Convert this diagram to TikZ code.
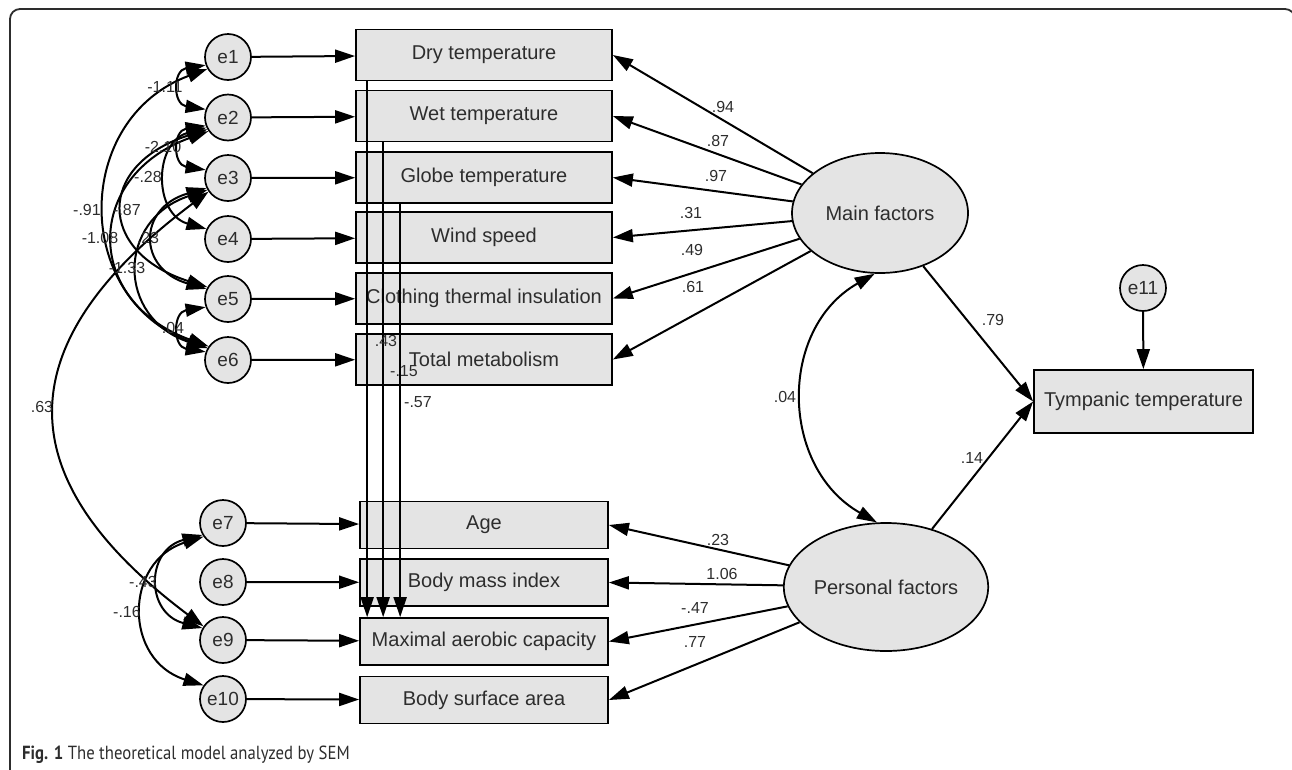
\documentclass[tikz,border=0pt]{standalone}
\usepackage{fontspec}
\setmainfont{Liberation Sans}
\newfontfamily\capfont[FakeStretch=0.88]{PT Sans}
\usetikzlibrary{shapes.geometric,arrows.meta,calc}

\definecolor{boxgray}{RGB}{228,228,228}
\definecolor{inkgray}{RGB}{45,45,45}

\tikzset{
  obs/.style={draw=black,line width=1.7pt,fill=boxgray,minimum width=256pt,minimum height=51pt,
    inner sep=0pt,font=\fontsize{20}{22}\selectfont,text=inkgray},
  err/.style={circle,draw=black,line width=1.7pt,fill=boxgray,minimum size=46pt,inner sep=0pt,
    font=\fontsize{19}{21}\selectfont,text=inkgray},
  lat/.style={ellipse,draw=black,line width=1.7pt,fill=boxgray,inner sep=0pt,
    font=\fontsize{20}{22}\selectfont,text=inkgray},
  coef/.style={font=\fontsize{16}{18}\selectfont,text=inkgray,inner sep=0pt},
  onearr/.style={->,line width=2pt},
  twoarr/.style={<->,line width=2pt}
}

\begin{document}
\begin{tikzpicture}[x=1pt,y=-1pt,>={Triangle[length=20pt,width=13pt]}]
\useasboundingbox (0,0) rectangle (1292,769);
\clip (0,0) rectangle (1292,769);

% frame
\draw[line width=1.8pt,draw=inkgray,rounded corners=10pt] (10,800) -- (10,9) -- (1295,9) -- (1295,800);

% observed variables
\foreach \n/\t/\y in {dry/Dry temperature/55, wet/Wet temperature/116, globe/Globe temperature/177.5,
    wind/Wind speed/237.5, cloth/Clothing thermal insulation/298.5, meta/Total metabolism/359.5}
  \node[obs] (\n) at (484,\y) {\t};
\foreach \n/\t/\y in {age/Age/525, bmi/Body mass index/582.5, mac/Maximal aerobic capacity/641.5,
    bsa/Body surface area/700}
  \node[obs,minimum width=248pt,minimum height=47pt] (\n) at (484,\y) {\t};
\node[obs,minimum width=219pt,minimum height=63pt] (tymp) at (1143.5,401.5) {Tympanic temperature};

% errors
\foreach \y [count=\i] in {57,117.5,178,239,299,360}
  \node[err] (e\i) at (228,\y) {e\i};
\foreach \y [count=\i from 7] in {523,582,640,699}
  \node[err] (e\i) at (223,\y) {e\i};
\node[err] (e11) at (1143,288) {e11};

% latent factors
\node[lat,minimum width=176pt,minimum height=120pt] (main) at (880,213) {Main factors};
\node[lat,minimum width=172pt,minimum height=128pt] (pers) at (886,587) {Personal factors};

% paths
\foreach \i/\n in {1/dry,2/wet,3/globe,4/wind,5/cloth,6/meta,7/age,8/bmi,9/mac,10/bsa}
  \draw[onearr] (e\i) -- (\n);
\foreach \n in {dry,wet,globe,wind,cloth,meta}
  \draw[onearr] (main) -- (\n.east);
\foreach \n in {age,bmi,mac,bsa}
  \draw[onearr] (pers) -- (\n.east);
\draw[onearr] (main) -- (tymp.west);
\draw[onearr] (pers) -- (tymp.west);
\draw[onearr] (e11) -- (tymp);
\foreach \n/\dx in {dry/12,wet/28,globe/45}
  \draw[onearr] ($(\n.south west)+(\dx,0)$) -- ($(\n.south west |- mac.north)+(\dx,0)$);

% covariances
\draw[twoarr] (main.265) .. controls +(-97,55) and +(-97,-55) .. (pers.98);
\draw[twoarr] (e1.200) .. controls +(-33,5) and +(-33,-5) .. (e2.160);
\draw[twoarr] (e2.200) .. controls +(-33,5) and +(-33,-5) .. (e3.160);
\draw[twoarr] (e5.200) .. controls +(-33,5) and +(-33,-5) .. (e6.160);
\draw[twoarr] (e2.205) .. controls +(-53,15) and +(-53,-15) .. (e4.155);
\draw[twoarr] (e3.205) .. controls +(-69,20) and +(-69,-20) .. (e5.155);
\draw[twoarr] (e3.210) .. controls +(-91,30) and +(-91,-30) .. (e6.150);
\draw[twoarr] (e2.210) .. controls +(-111,35) and +(-111,-35) .. (e5.150);
\draw[twoarr] (e2.215) .. controls +(-125,45) and +(-125,-45) .. (e6.145);
\draw[twoarr] (e1.210) .. controls +(-135,50) and +(-135,-50) .. (e6.150);
\draw[twoarr] (e3.215) .. controls +(-200,150) and +(-200,-150) .. (e9.145);
\draw[twoarr] (e7.210) .. controls +(-57,15) and +(-57,-15) .. (e9.150);
\draw[twoarr] (e7.215) .. controls +(-80,25) and +(-80,-25) .. (e10.145);

% estimates
\foreach \t/\x/\y [count=\i] in {-1.11/165/87, -2.10/163/147, -.28/148/177, -.91/87/210, -.87/127/210,
    -1.08/100/238, .23/148/238, -1.33/127/268, .04/173/328, .63/42/407, -.43/143/582, -.16/127/612,
    .94/723/107, .87/718/141, .97/716/176, .31/691/213, .49/692/250, .61/693/287,
    .23/718/540, 1.06/722/574, -.47/695/608, .77/695/642,
    .79/993/320, .14/972/458, .04/785/397, .43/386/341, -.15/404/371, -.57/418/402}
  \node[coef] (lab\i) at (\x,\y) {\t};

% caption
\node[anchor=base west,inner sep=0pt,font=\capfont\fontsize{19}{24}\selectfont,text=inkgray] (cap) at (22,759)
  {\textbf{Fig. 1} The theoretical model analyzed by SEM};
\end{tikzpicture}
\end{document}
